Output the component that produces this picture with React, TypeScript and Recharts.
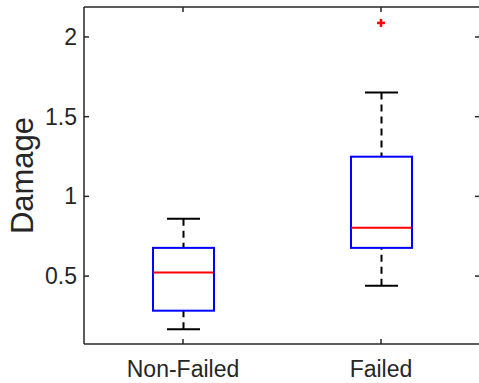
import { ComposedChart, Bar, Scatter, XAxis, YAxis } from 'recharts';

const categories = ['Non-Failed', 'Failed'];
const whiskerLow = [0.166, 0.44];
const q1 = [0.283, 0.677];
const median = [0.523, 0.804];
const q3 = [0.677, 1.249];
const whiskerHigh = [0.86, 1.652];
const outliers: (number | null)[] = [null, 2.088];
const yTicks = [0.5, 1, 1.5, 2];

const data = categories.map((name, i) => ({
  name,
  lower: [whiskerLow[i], q1[i]],
  box: [q1[i], q3[i]],
  upper: [q3[i], whiskerHigh[i]],
  median: median[i],
  outlier: outliers[i],
}));

const axisColor = '#262626';
const font = '"Liberation Sans", Arial, Helvetica, sans-serif';

const BoxShape = (props: any) => {
  const { x, y, width, height } = props;
  return <rect x={x} y={y} width={width} height={height} fill="none" stroke="#0000ff" strokeWidth={2} />;
};

const UpperWhisker = (props: any) => {
  const { x, y, width, height } = props;
  const cx = x + width / 2;
  return (
    <g>
      <line x1={cx} y1={y} x2={cx} y2={y + height} stroke="#000" strokeWidth={2} strokeDasharray="7 5" />
      <line x1={x} y1={y} x2={x + width} y2={y} stroke="#000" strokeWidth={2} />
    </g>
  );
};

const LowerWhisker = (props: any) => {
  const { x, y, width, height } = props;
  const cx = x + width / 2;
  return (
    <g>
      <line x1={cx} y1={y + height} x2={cx} y2={y} stroke="#000" strokeWidth={2} strokeDasharray="7 5" />
      <line x1={x} y1={y + height} x2={x + width} y2={y + height} stroke="#000" strokeWidth={2} />
    </g>
  );
};

const MedianShape = (props: any) => {
  const { cx, cy } = props;
  return <line x1={cx - 30} y1={cy} x2={cx + 30} y2={cy} stroke="#ff0000" strokeWidth={2} />;
};

const OutlierShape = (props: any) => {
  const { cx, cy, payload } = props;
  if (payload == null || payload.outlier == null) return <g />;
  return (
    <g stroke="#ff0000" strokeWidth={2.5}>
      <line x1={cx - 4} y1={cy} x2={cx + 4} y2={cy} />
      <line x1={cx} y1={cy - 4} x2={cx} y2={cy + 4} />
    </g>
  );
};

const BottomTick = (props: any) => {
  const { x, y, payload } = props;
  return (
    <g>
      <line x1={x} y1={y - 33} x2={x} y2={y - 38} stroke={axisColor} strokeWidth={1.5} />
      <text x={x} y={y} textAnchor="middle" fontSize={23} fontFamily={font} fill={axisColor}>
        {payload.value}
      </text>
    </g>
  );
};

const TopTick = (props: any) => {
  const { x, y } = props;
  return <line x1={x} y1={y} x2={x} y2={y + 5} stroke={axisColor} strokeWidth={1.5} />;
};

const LeftTick = (props: any) => {
  const { x, y, payload } = props;
  return (
    <g>
      <line x1={x + 7} y1={y} x2={x + 12} y2={y} stroke={axisColor} strokeWidth={1.5} />
      <text x={x} y={y + 8} textAnchor="end" fontSize={23} fontFamily={font} fill={axisColor}>
        {payload.value}
      </text>
    </g>
  );
};

const RightTick = (props: any) => {
  const { x, y } = props;
  return <line x1={x} y1={y} x2={x - 5} y2={y} stroke={axisColor} strokeWidth={1.5} />;
};

const DamageLabel = (props: any) => {
  const vb = props.viewBox;
  const cy = vb ? vb.y + vb.height / 2 : 175.5;
  return (
    <text
      x={33}
      y={cy}
      transform={`rotate(-90 33 ${cy})`}
      textAnchor="middle"
      fontSize={31}
      fontFamily={font}
      fill={axisColor}
    >
      Damage
    </text>
  );
};

export default function App() {
  const axisLine = { stroke: axisColor, strokeWidth: 1.5 };
  return (
    <div style={{ position: 'absolute', left: 0, top: 0, width: 479, height: 383, overflow: 'hidden', background: '#fff' }}>
      <ComposedChart width={482} height={383} data={data} margin={{ top: 6, right: 1, bottom: 0, left: 0 }}>
        <XAxis
          xAxisId="main"
          dataKey="name"
          type="category"
          height={39}
          axisLine={axisLine}
          tickLine={false}
          tickSize={0}
          tickMargin={33}
          tick={<BottomTick />}
          interval={0}
        />
        <XAxis
          xAxisId="top"
          dataKey="name"
          type="category"
          orientation="top"
          height={1}
          axisLine={axisLine}
          tickLine={false}
          tickSize={0}
          tickMargin={0}
          tick={<TopTick />}
          interval={0}
        />
        <XAxis xAxisId="low" dataKey="name" type="category" height={0} hide />
        <XAxis xAxisId="high" dataKey="name" type="category" height={0} hide />
        <XAxis xAxisId="box" dataKey="name" type="category" height={0} hide />
        <YAxis
          type="number"
          domain={[0.074, 2.188]}
          allowDataOverflow
          ticks={yTicks}
          width={84}
          axisLine={axisLine}
          tickLine={false}
          tickSize={0}
          tickMargin={7}
          tick={<LeftTick />}
          label={DamageLabel}
        />
        <YAxis
          yAxisId="right"
          orientation="right"
          type="number"
          domain={[0.074, 2.188]}
          allowDataOverflow
          ticks={yTicks}
          width={1}
          axisLine={axisLine}
          tickLine={false}
          tickSize={0}
          tickMargin={0}
          tick={<RightTick />}
        />
        <Bar xAxisId="low" dataKey="lower" barSize={33} shape={<LowerWhisker />} isAnimationActive={false} />
        <Bar xAxisId="high" dataKey="upper" barSize={33} shape={<UpperWhisker />} isAnimationActive={false} />
        <Bar xAxisId="box" dataKey="box" barSize={61} shape={<BoxShape />} isAnimationActive={false} />
        <Scatter xAxisId="main" dataKey="median" shape={<MedianShape />} isAnimationActive={false} />
        <Scatter xAxisId="main" dataKey="outlier" shape={<OutlierShape />} isAnimationActive={false} />
      </ComposedChart>
    </div>
  );
}
